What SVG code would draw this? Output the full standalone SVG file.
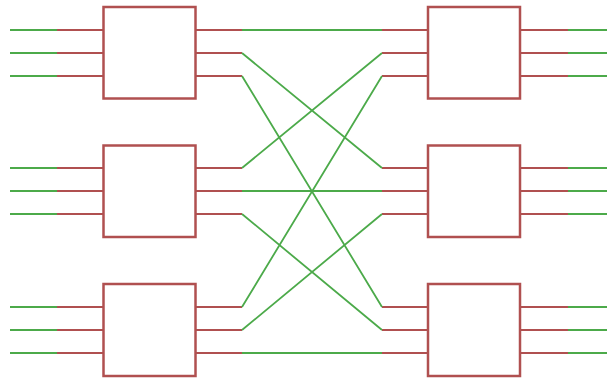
<svg xmlns="http://www.w3.org/2000/svg" width="607" height="379" viewBox="0 0 607 379">
<style>
.box{fill:#fff;stroke:#b05050;stroke-width:2.5}
.r{stroke:#b05050;stroke-width:1.8;fill:none}
.g{stroke:#4caa4a;stroke-width:1.8;fill:none}
</style>
<rect width="607" height="379" fill="#fff"/>
<g id="connectors">
<path class="g" d="M10 30H57M10 53H57M10 76H57M10 168H57M10 191H57M10 214H57M10 307H57M10 330H57M10 353H57"/>
<path class="r" d="M57 30H103M57 53H103M57 76H103M57 168H103M57 191H103M57 214H103M57 307H103M57 330H103M57 353H103"/>
<path class="r" d="M196 30H242M196 53H242M196 76H242M196 168H242M196 191H242M196 214H242M196 307H242M196 330H242M196 353H242"/>
<path class="r" d="M382 30H428M382 53H428M382 76H428M382 168H428M382 191H428M382 214H428M382 307H428M382 330H428M382 353H428"/>
<path class="r" d="M520 30H568M520 53H568M520 76H568M520 168H568M520 191H568M520 214H568M520 307H568M520 330H568M520 353H568"/>
<path class="g" d="M568 30H607M568 53H607M568 76H607M568 168H607M568 191H607M568 214H607M568 307H607M568 330H607M568 353H607"/>
<path class="g" d="M242 30L382 30M242 53L382 168M242 76L382 307M242 168L382 53M242 191L382 191M242 214L382 330M242 307L382 76M242 330L382 214M242 353L382 353"/>
</g>
<g id="L1"><rect class="box" x="103.5" y="7" width="92" height="91.5"/></g>
<g id="L2"><rect class="box" x="103.5" y="145.5" width="92" height="91.5"/></g>
<g id="L3"><rect class="box" x="103.5" y="284" width="92" height="92"/></g>
<g id="R1"><rect class="box" x="428" y="7" width="92" height="91.5"/></g>
<g id="R2"><rect class="box" x="428" y="145.5" width="92" height="91.5"/></g>
<g id="R3"><rect class="box" x="428" y="284" width="92" height="92"/></g>
</svg>
